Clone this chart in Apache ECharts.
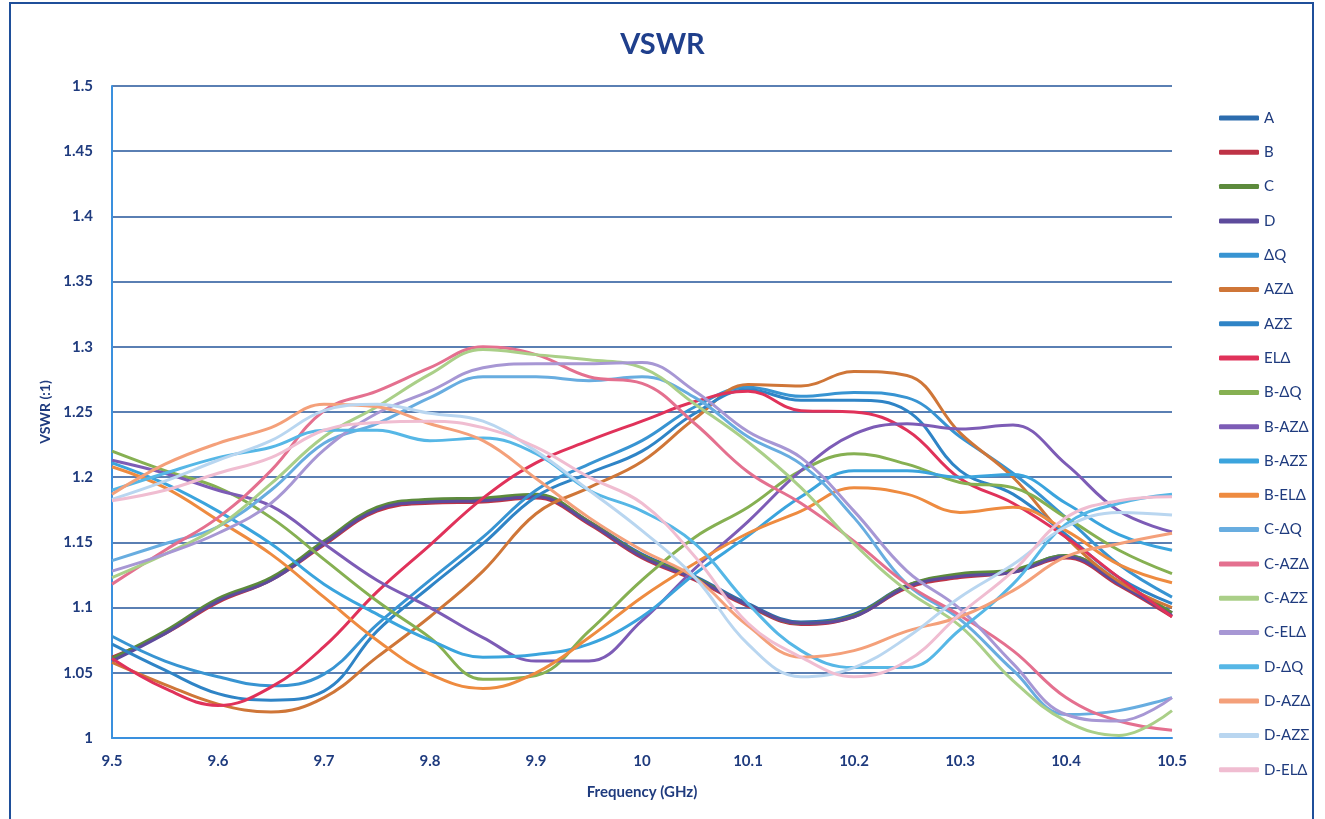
<!DOCTYPE html>
<html>
<head>
<meta charset="utf-8">
<script src="https://cdn.jsdelivr.net/npm/echarts@6/dist/echarts.min.js"></script>
<style>
html,body{margin:0;padding:0;background:#fff;}
#chart{width:1325px;height:819px;}
</style>
</head>
<body>
<div id="chart"></div>
<script>
const freq = [9.5,9.55,9.6,9.65,9.7,9.75,9.8,9.85,9.9,9.95,10.0,10.05,10.1,10.15,10.2,10.25,10.3,10.35,10.4,10.45,10.5];

const sA     = [1.060,1.081,1.106,1.122,1.150,1.176,1.182,1.183,1.186,1.166,1.141,1.124,1.103,1.089,1.095,1.117,1.125,1.128,1.140,1.119,1.096];
const sB     = [1.062,1.080,1.104,1.121,1.148,1.174,1.180,1.181,1.184,1.164,1.138,1.121,1.101,1.087,1.093,1.115,1.123,1.127,1.138,1.117,1.093];
const sC     = [1.061,1.082,1.107,1.123,1.151,1.177,1.183,1.184,1.187,1.166,1.140,1.123,1.102,1.088,1.094,1.117,1.126,1.129,1.140,1.120,1.096];
const sD     = [1.059,1.080,1.105,1.121,1.149,1.175,1.181,1.182,1.185,1.165,1.139,1.122,1.102,1.088,1.093,1.116,1.124,1.127,1.139,1.118,1.094];
const sDQ    = [1.078,1.059,1.047,1.040,1.049,1.087,1.121,1.154,1.190,1.210,1.228,1.254,1.269,1.262,1.265,1.261,1.231,1.203,1.169,1.133,1.108];
const sAZD   = [1.058,1.041,1.026,1.020,1.031,1.062,1.093,1.128,1.172,1.192,1.212,1.245,1.271,1.270,1.281,1.278,1.234,1.200,1.154,1.120,1.100];
const sAZS   = [1.072,1.052,1.034,1.029,1.036,1.082,1.116,1.149,1.185,1.203,1.220,1.249,1.267,1.259,1.259,1.251,1.205,1.187,1.156,1.123,1.103];
const sELD   = [1.061,1.038,1.025,1.039,1.070,1.112,1.148,1.184,1.211,1.228,1.243,1.258,1.266,1.251,1.250,1.236,1.199,1.180,1.154,1.123,1.093];
const sBDQ   = [1.220,1.205,1.192,1.169,1.137,1.105,1.077,1.045,1.048,1.082,1.121,1.154,1.177,1.205,1.218,1.210,1.196,1.192,1.169,1.144,1.126];
const sBAZD  = [1.213,1.203,1.190,1.178,1.149,1.121,1.100,1.077,1.059,1.059,1.090,1.130,1.166,1.205,1.233,1.241,1.237,1.240,1.210,1.174,1.158];
const sBAZS  = [1.211,1.195,1.174,1.149,1.118,1.095,1.075,1.062,1.064,1.072,1.093,1.126,1.155,1.185,1.205,1.205,1.200,1.202,1.180,1.156,1.144];
const sBELD  = [1.208,1.192,1.167,1.141,1.108,1.075,1.049,1.038,1.050,1.077,1.108,1.134,1.157,1.174,1.192,1.187,1.173,1.177,1.159,1.133,1.119];
const sCDQ   = [1.136,1.149,1.162,1.190,1.226,1.241,1.261,1.277,1.277,1.274,1.277,1.261,1.231,1.210,1.169,1.118,1.091,1.052,1.018,1.021,1.031];
const sCAZD  = [1.118,1.144,1.169,1.205,1.251,1.266,1.284,1.300,1.294,1.277,1.272,1.241,1.204,1.180,1.151,1.118,1.094,1.067,1.031,1.013,1.006];
const sCAZS  = [1.123,1.141,1.162,1.195,1.231,1.254,1.279,1.298,1.294,1.290,1.284,1.256,1.227,1.192,1.149,1.113,1.086,1.044,1.013,1.002,1.021];
const sCELD  = [1.128,1.141,1.157,1.180,1.221,1.249,1.266,1.284,1.287,1.287,1.288,1.266,1.235,1.215,1.174,1.128,1.099,1.057,1.018,1.013,1.031];
const sDDQ   = [1.190,1.203,1.215,1.223,1.236,1.236,1.228,1.230,1.218,1.190,1.174,1.149,1.103,1.067,1.054,1.054,1.083,1.118,1.164,1.180,1.187];
const sDAZD  = [1.187,1.210,1.226,1.238,1.256,1.254,1.241,1.228,1.199,1.169,1.144,1.123,1.086,1.062,1.067,1.082,1.093,1.113,1.139,1.149,1.157];
const sDAZS  = [1.183,1.197,1.213,1.228,1.251,1.256,1.249,1.243,1.220,1.190,1.159,1.123,1.072,1.047,1.054,1.077,1.108,1.133,1.162,1.173,1.171];
const sDELD  = [1.182,1.190,1.203,1.215,1.236,1.242,1.243,1.238,1.223,1.200,1.180,1.139,1.088,1.062,1.047,1.059,1.095,1.128,1.169,1.182,1.185];

const names  = ['A','B','C','D','ΔQ','AZΔ','AZΣ','ELΔ','B-ΔQ','B-AZΔ','B-AZΣ','B-ELΔ','C-ΔQ','C-AZΔ','C-AZΣ','C-ELΔ','D-ΔQ','D-AZΔ','D-AZΣ','D-ELΔ'];
const values = [sA,sB,sC,sD,sDQ,sAZD,sAZS,sELD,sBDQ,sBAZD,sBAZS,sBELD,sCDQ,sCAZD,sCAZS,sCELD,sDDQ,sDAZD,sDAZS,sDELD];
const colors = ['#2c6cae','#be3346','#5c8a3c','#5d4b9c','#3894d2','#cf7638','#2f84c6','#e0325a',
                '#86b052','#7d5cb6','#3ba4dd','#ee8b40','#68ade0','#e4708f','#aacf88','#a797d4',
                '#56b7e6','#f4a07a','#b9d6f0','#f0bdd1'];

const fmt = v => String(+v.toFixed(2));
const txt = '#1f3b7e';
const font = 'Lato, "Open Sans", "DejaVu Sans", sans-serif';

const chart = echarts.init(document.getElementById('chart'));
chart.setOption({
  animation: false,
  backgroundColor: '#fff',
  color: colors,
  graphic: [{
    type: 'rect', shape: {x: 10, y: 3, width: 1303, height: 840},
    style: {fill: 'none', stroke: '#1f4f9a', lineWidth: 2}, silent: true
  }],
  title: {
    text: 'VSWR', left: 'center', top: 25,
    textStyle: {fontFamily: font, fontWeight: 'bold', fontSize: 29, color: '#1f3f8c'}
  },
  legend: {
    orient: 'vertical', left: 1214, top: 104,
    itemWidth: 40, itemHeight: 5, itemGap: 16.3, icon: 'roundRect',
    textStyle: {fontFamily: font, fontSize: 15, color: txt, lineHeight: 18}
  },
  grid: {left: 112, right: 153, top: 86, bottom: 81, containLabel: false},
  xAxis: {
    type: 'value', min: 9.5, max: 10.5, interval: 0.1,
    name: 'Frequency (GHz)', nameLocation: 'middle', nameGap: 47,
    nameTextStyle: {fontFamily: font, fontWeight: 'bold', fontSize: 15, color: txt},
    axisLine: {show: true, lineStyle: {color: '#3a90de', width: 2}},
    axisTick: {show: false},
    splitLine: {show: false},
    axisLabel: {formatter: fmt, margin: 16, fontFamily: font, fontWeight: 'bold', fontSize: 15, color: txt}
  },
  yAxis: {
    type: 'value', min: 1, max: 1.5, interval: 0.05,
    name: 'VSWR (:1)', nameLocation: 'middle', nameGap: 60, nameRotate: 90,
    nameTextStyle: {fontFamily: font, fontWeight: 'bold', fontSize: 14, color: txt},
    axisLine: {show: true, lineStyle: {color: '#3a90de', width: 2}},
    axisTick: {show: false},
    splitLine: {show: true, lineStyle: {color: '#23559a', width: 1.5}},
    axisLabel: {formatter: fmt, margin: 19, fontFamily: font, fontWeight: 'bold', fontSize: 15, color: txt}
  },
  series: names.map((n, i) => ({
    name: n, type: 'line', symbol: 'none', smooth: 0.4,
    lineStyle: {width: 3, color: colors[i]},
    itemStyle: {color: colors[i]},
    data: freq.map((f, j) => [f, values[i][j]])
  }))
});
</script>
</body>
</html>
